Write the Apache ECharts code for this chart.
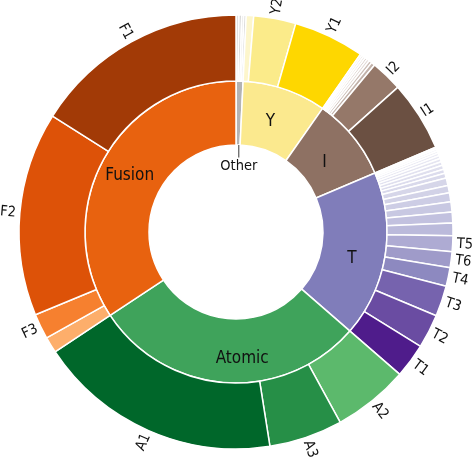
<!DOCTYPE html>
<html>
<head>
<meta charset="utf-8">
<script src="https://cdn.jsdelivr.net/npm/echarts@6/dist/echarts.min.js"></script>
<style>
html,body{margin:0;padding:0;background:#fff;}
#chart{width:474px;height:459px;}
</style>
</head>
<body>
<div id="chart"></div>
<script>
// ---- data (values in degrees of the full circle) ----
const innerNames = ['Other', 'Y', 'I', 'T', 'Atomic', 'Fusion'];

const otherNames = ['', '', '', ''];
const otherValues = [0.8, 0.7, 0.6, 0.6];

const yNames = ['', 'Y2', 'Y1'];
const yValues = [2.0, 11.3, 19.0];

const iNames = ['', '', '', '', '', '', '', 'I2', 'I1'];
const iValues = [0.5, 0.5, 0.6, 0.6, 0.7, 0.8, 1.0, 8.5, 18.8];

const tNames = ['', '', '', '', '', '', '', '', '', '', '', '', '', '', '', '', 'T5', 'T6', 'T4', 'T3', 'T2', 'T1'];
const tValues = [0.5, 0.6, 0.6, 0.7, 0.8, 0.9, 1.0, 1.1, 1.1, 1.3, 2.0, 2.0, 2.4, 2.7, 2.9, 3.4, 4.2, 4.3, 5.0, 8.2, 9.1, 9.2];

const aNames = ['A2', 'A3', 'A1'];
const aValues = [20.3, 19.7, 65.5];

const fNames = ['', 'F3', 'F2', 'F1'];
const fValues = [4.3, 6.8, 54.7, 57.7];

// ---- colours ----
const innerColors = ['#b3b3b3', '#fbe98e', '#8e7163', '#807dba', '#3fa35b', '#e8620f'];
const otherColors = ['#e0e0e0', '#cfcfcf', '#e8e8e8', '#cccccc'];
const yColors = ['#fdf6cc', '#fbeb8a', '#fed700'];
const iColors = ['#ece6e3', '#ddd3ce', '#e8e1dd', '#d3c7c1', '#e2dad6', '#cdbfb8', '#c3b3ab', '#957869', '#6b5042'];
const tColors = ['#f6f6fb', '#f1f1f8', '#eeeef6', '#ebebf5', '#e8e8f3', '#e5e5f1', '#e2e2f0', '#dfdfee', '#dcdced', '#d9d9eb',
                 '#d6d6e9', '#d2d2e7', '#cdcde5', '#c8c8e2', '#c2c1df', '#bbbadb',
                 '#aeabd3', '#9f9bc9', '#8d89c0', '#7663ae', '#6a4ca2', '#4f1c8b'];
const aColors = ['#5cb96c', '#268f47', '#00672a'];
const fColors = ['#fdae6b', '#f6802f', '#dd5208', '#a23a06'];

// label nudges (padding) so inner labels sit where the reference prints them
const innerLabelStyle = [
  null,
  { verticalAlign: 'top', lineHeight: 2, padding: [1, 8, 0, 0] },
  { verticalAlign: 'top', lineHeight: 2, padding: [4, 8, 0, 0] },
  { verticalAlign: 'top', lineHeight: 2, padding: [7, 3, 0, 0] },
  { verticalAlign: 'top', lineHeight: 2, padding: [7, 0, 0, 28] },
  { padding: [0, 3, 0, 0] }
];

const FONT = "'DejaVu Sans Condensed', 'DejaVu Sans', sans-serif";

function kids(names, values, colors) {
  return names.map((n, i) => ({ name: n, value: values[i], itemStyle: { color: colors[i] } }));
}

const childGroups = [
  kids(otherNames, otherValues, otherColors),
  kids(yNames, yValues, yColors),
  kids(iNames, iValues, iColors),
  kids(tNames, tValues, tColors),
  kids(aNames, aValues, aColors),
  kids(fNames, fValues, fColors)
];

const data = innerNames.map((n, i) => {
  const node = { name: n, itemStyle: { color: innerColors[i] }, children: childGroups[i] };
  if (n === 'Other') {
    node.label = {
      rotate: 0,
      verticalAlign: 'top',
      padding: [33, 0, 0, 0],
      formatter: '{l||}\n{t|Other}',
      rich: {
        l: { fontSize: 12, lineHeight: 12, color: '#222', fontFamily: FONT },
        t: { fontSize: 14.5, lineHeight: 17, color: '#111', fontFamily: FONT }
      }
    };
  } else {
    node.label = innerLabelStyle[i];
  }
  return node;
});

const chart = echarts.init(document.getElementById('chart'), null, { renderer: 'canvas' });
chart.setOption({
  animation: false,
  series: [{
    type: 'sunburst',
    center: [236, 232],
    startAngle: 90,
    clockwise: true,
    sort: null,
    nodeClick: false,
    data: data,
    itemStyle: { borderColor: '#ffffff', borderWidth: 1.5 },
    emphasis: { focus: 'none' },
    levels: [
      {},
      {
        r0: 87, r: 151,
        label: { rotate: 0, fontSize: 17, color: '#111', fontFamily: FONT }
      },
      {
        r0: 151, r: 217,
        label: { position: 'outside', rotate: 'radial', distance: 4, fontSize: 14.5, color: '#111', fontFamily: FONT }
      }
    ]
  }]
});
</script>
</body>
</html>
